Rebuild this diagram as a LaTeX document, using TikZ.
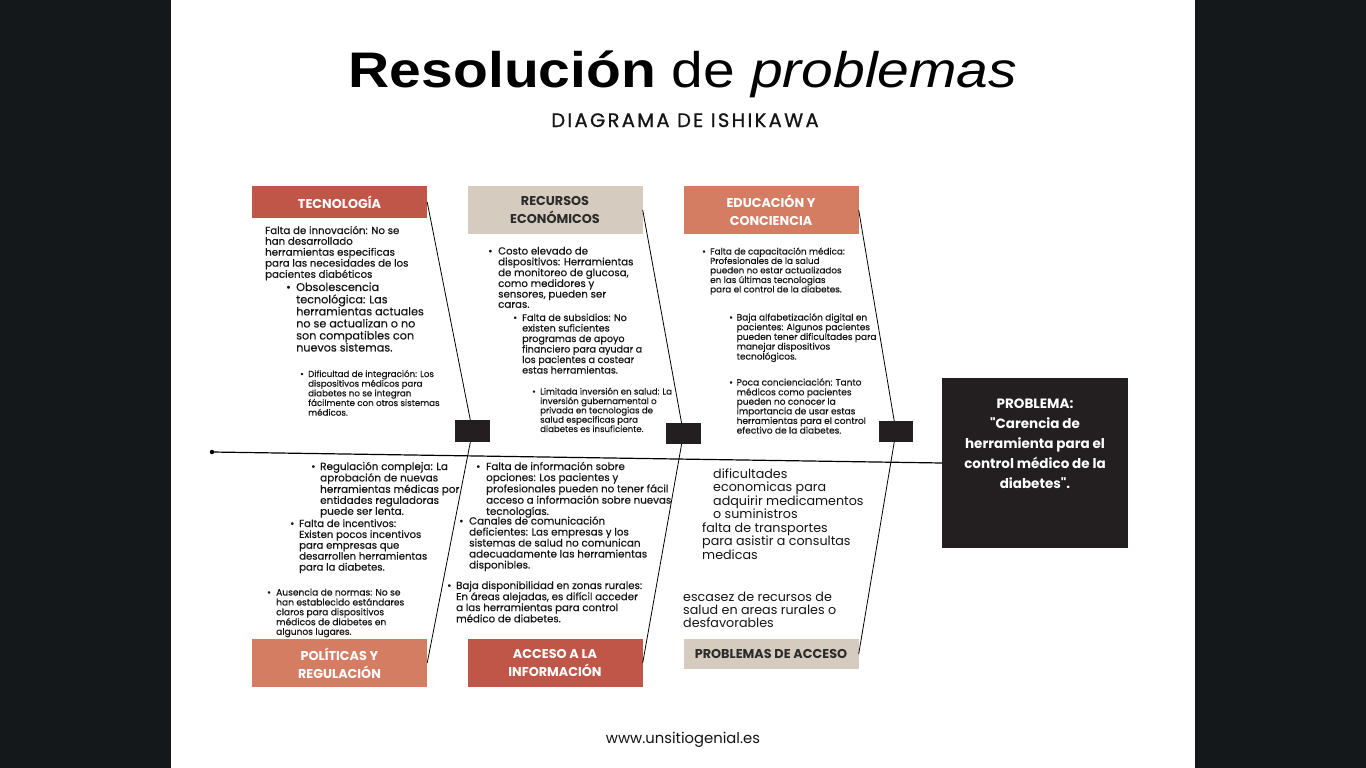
\documentclass[tikz,border=0pt]{standalone}
\usepackage{fontspec}
\usepackage{graphicx}
\setmainfont{Poppins}
\newfontfamily\body[FakeBold=0.4]{Poppins}
\newfontfamily\probfont[Ligatures=TeXOff]{Poppins}
\newfontfamily\titlefont{Liberation Sans}
\newfontfamily\subfont[LetterSpace=12,FakeBold=0.9]{Poppins}
\definecolor{darkbg}{HTML}{15181B}
\definecolor{cred}{HTML}{BF5647}
\definecolor{csal}{HTML}{D57D63}
\definecolor{cbeige}{HTML}{D5CBBE}
\definecolor{cprob}{HTML}{231F20}
\definecolor{ctxt}{HTML}{141414}
\definecolor{chdr}{HTML}{2B2B2B}
\newcommand{\fsz}[2]{\fontsize{#1}{#2}\selectfont}
\newcommand{\lns}[1]{\begin{tabular}[t]{@{}l@{}}#1\end{tabular}}
\newcommand{\clns}[1]{\begin{tabular}[t]{@{}c@{}}#1\end{tabular}}
\newcommand{\itm}[2][9pt]{\makebox[#1][l]{\textbullet}\lns{#2}}
\renewcommand{\arraystretch}{1}
\begin{document}
\begin{tikzpicture}[x=1pt,y=-1pt,
  hdr/.style={rectangle, inner sep=0pt, minimum width=175pt, align=center,
    font=\bfseries\fsz{12.8}{18}},
  jn/.style={rectangle, fill=cprob, inner sep=0pt},
  txt/.style={anchor=base west, inner sep=0pt, text=ctxt},
  bone/.style={draw=black, line width=0.8pt},
  spine/.style={draw=black, line width=1.2pt},
  probbox/.style={rectangle, fill=cprob, inner sep=0pt, minimum width=186pt, minimum height=170pt}
]
\useasboundingbox (0,0) rectangle (1366,768);
\fill[darkbg] (0,0) rectangle (1366,768);
\fill[white] (171,0) rectangle (1195,768);

% title
\node[anchor=base, inner sep=0pt, text=black] (title) at (683,88)
  {\titlefont\fsz{50}{50}\scalebox{1.14}[1]{\textbf{Resolución} de \textit{problemas}}};
\node[anchor=base, inner sep=0pt, text=ctxt] (subtitle) at (685,127)
  {\subfont\fsz{19.5}{19.5}DIAGRAMA DE ISHIKAWA};

% problem box
\node[probbox] (prob) at (1035,463) {};
\node[anchor=base, inner sep=0pt, text=white, font=\probfont\bfseries\fsz{13.5}{20}]
  (probtxt) at (1035,408) {\clns{PROBLEMA:\\"Carencia de\\herramienta para el\\control médico de la\\diabetes".}};

% headers
\node[hdr, fill=cred, text=white, minimum height=32pt] (tec) at (339.5,202) {TECNOLOGÍA};
\node[hdr, fill=cbeige, text=chdr, minimum height=48pt] (rec) at (555,210) {RECURSOS\\ECONÓMICOS};
\node[hdr, fill=csal, text=white, minimum height=48pt] (edu) at (771,210) {EDUCACIÓN Y\\CONCIENCIA};
\node[hdr, fill=csal, text=white, minimum height=48pt] (pol) at (339.5,663) {POLÍTICAS Y\\REGULACIÓN};
\node[hdr, fill=cred, text=white, minimum height=48pt] (acc) at (555,663) {ACCESO A LA\\INFORMACIÓN};
\node[hdr, fill=cbeige, text=chdr, minimum height=30pt] (pac) at (771,654) {PROBLEMAS DE ACCESO};

% spine
\node[circle, fill=black, inner sep=0pt, minimum size=4.5pt] (dot) at (212,452) {};
\coordinate (sp) at (942,463);
\draw[spine] (dot.center) -- (sp);

% junction rectangles and bones
\coordinate (j1c) at (472.5,431);
\coordinate (j2c) at (683.5,433.5);
\coordinate (j3c) at (896,431.5);
\draw[bone] (tec.east) -- (j1c) -- (pol.east);
\draw[bone] (rec.east) -- (j2c) -- (acc.east);
\draw[bone] (edu.east) -- (j3c) -- (pac.east);
\node[jn, minimum width=35pt, minimum height=22pt] (j1) at (j1c) {};
\node[jn, minimum width=35pt, minimum height=21pt] (j2) at (j2c) {};
\node[jn, minimum width=34pt, minimum height=21pt] (j3) at (j3c) {};

% TECNOLOGIA texts
\node[txt, font=\body\fsz{10.2}{10.6}] (ta) at (265,234)
  {\lns{Falta de innovación: No se\\han desarrollado\\herramientas especificas\\para las necesidades de los\\pacientes diabéticos}};
\node[txt, font=\body\fsz{11.2}{11.7}] (tb) at (286,291)
  {\itm[10pt]{Obsolescencia\\tecnológica: Las\\herramientas actuales\\no se actualizan o no\\son compatibles con\\nuevos sistemas.}};
\node[txt, font=\body\fsz{8.7}{9.6}] (tc) at (300,377)
  {\itm[8pt]{Dificultad de integración: Los\\dispositivos médicos para\\diabetes no se integran\\fácilmente con otros sistemas\\médicos.}};

% RECURSOS texts
\node[txt, font=\body\fsz{10.2}{10.2}] (rd) at (488,254.5)
  {\itm[10pt]{Costo elevado de\\dispositivos: Herramientas\\de monitoreo de glucosa,\\como medidores y\\sensores, pueden ser\\caras.}};
\node[txt, font=\body\fsz{9.6}{10.5}] (re) at (513,321)
  {\itm[9pt]{Falta de subsidios: No\\existen suficientes\\programas de apoyo\\financiero para ayudar a\\los pacientes a costear\\estas herramientas.}};
\node[txt, font=\body\fsz{8.6}{9.2}] (rf) at (532,394.5)
  {\itm[8pt]{Limitada inversión en salud: La\\inversión gubernamental o\\privada en tecnologias de\\salud especificas para\\diabetes es insuficiente.}};

% EDUCACION texts
\node[txt, font=\body\fsz{8.8}{9.1}] (eg) at (702,254.5)
  {\itm[8pt]{Falta de capacitación médica:\\Profesionales de la salud\\pueden no estar actualizados\\en las últimas tecnologias\\para el control de la diabetes.}};
\node[txt, font=\body\fsz{9}{9.5}] (eh) at (729,320.5)
  {\itm[7.5pt]{Baja alfabetización digital en\\pacientes: Algunos pacientes\\pueden tener dificultades para\\manejar dispositivos\\tecnológicos.}};
\node[txt, font=\body\fsz{9}{9.2}] (ei) at (729,385.5)
  {\itm[7.5pt]{Poca concienciación: Tanto\\médicos como pacientes\\pueden no conocer la\\importancia de usar estas\\herramientas para el control\\efectivo de la diabetes.}};

% POLITICAS texts
\node[txt, font=\body\fsz{10.4}{10.7}] (pj) at (311,470)
  {\itm[9pt]{Regulación compleja: La\\aprobación de nuevas\\herramientas médicas por\\entidades reguladoras\\puede ser lenta.}};
\node[txt, font=\body\fsz{10.1}{10.8}] (pk) at (290,527)
  {\itm[9pt]{Falta de incentivos:\\Existen pocos incentivos\\para empresas que\\desarrollen herramientas\\para la diabetes.}};
\node[txt, font=\body\fsz{9.1}{9.5}] (pl) at (267,595.5)
  {\itm[9pt]{Ausencia de normas: No se\\han establecido estándares\\claros para dispositivos\\médicos de diabetes en\\algunos lugares.}};

% ACCESO texts
\node[txt, font=\body\fsz{10.3}{10.7}] (am) at (476,470)
  {\itm[10pt]{Falta de información sobre\\opciones: Los pacientes y\\profesionales pueden no tener fácil\\acceso a información sobre nuevas\\tecnologías.}};
\node[txt, font=\body\fsz{10.3}{10.5}] (an) at (459,524.5)
  {\itm[10pt]{Canales de comunicación\\deficientes: Las empresas y los\\sistemas de salud no comunican\\adecuadamente las herramientas\\disponibles.}};
\node[txt, font=\body\fsz{10.2}{10.6}] (ao) at (447,589)
  {\itm[9pt]{Baja disponibilidad en zonas rurales:\\En áreas alejadas, es difícil acceder\\a las herramientas para control\\médico de diabetes.}};

% PROBLEMAS DE ACCESO texts
\node[txt, font=\fsz{12.7}{13}] (qp) at (713,478)
  {\lns{dificultades\\economicas para\\adquirir medicamentos\\o suministros}};
\node[txt, font=\fsz{12.7}{13}] (qq) at (702,532)
  {\lns{falta de transportes\\para asistir a consultas\\medicas}};
\node[txt, font=\fsz{12.7}{13}] (qr) at (683,601)
  {\lns{escasez de recursos de\\salud en areas rurales o\\desfavorables}};

% footer
\node[anchor=base, inner sep=0pt, text=ctxt, font=\fsz{14.8}{14.8}] (web) at (683,743) {www.unsitiogenial.es};
\end{tikzpicture}
\end{document}
